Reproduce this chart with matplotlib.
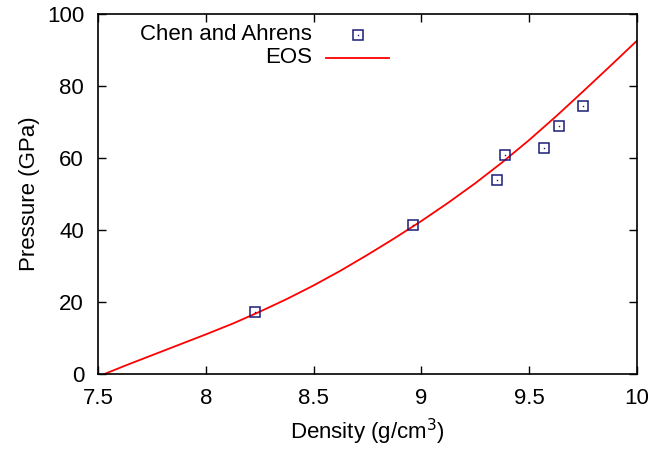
import matplotlib
matplotlib.use('Agg')
import matplotlib.pyplot as plt

plt.rcParams['font.family'] = ['Liberation Sans', 'DejaVu Sans']

# Chen and Ahrens data points
chen_rho = [8.23, 8.96, 9.35, 9.39, 9.57, 9.64, 9.75]
chen_p = [17.2, 41.5, 54.0, 60.8, 62.9, 68.9, 74.4]

# EOS curve
eos_rho = [7.53, 7.625, 7.75, 7.875, 8.0, 8.125, 8.25, 8.375, 8.5, 8.625, 8.75,
           8.875, 9.0, 9.125, 9.25, 9.375, 9.5, 9.625, 9.75, 9.875, 10.0]
eos_p = [0.0, 2.3, 5.2, 8.1, 11.0, 14.0, 17.3, 20.8, 24.6, 28.7, 33.1,
         37.7, 42.5, 47.6, 53.0, 58.8, 65.0, 71.6, 78.5, 85.5, 92.6]

xticks = [7.5, 8, 8.5, 9, 9.5, 10]
xticklabels = ['7.5', '8', '8.5', '9', '9.5', '10']
yticks = [0, 20, 40, 60, 80, 100]

sq_color = '#1c1c78'
fs = 16

fig = plt.figure(figsize=(6.7, 4.49), dpi=100)
ax = fig.add_axes([98/670, 75/449, 539/670, 360/449])

ax.plot(eos_rho, eos_p, color='red', lw=1.3, zorder=2)
ax.plot(chen_rho, chen_p, ls='none', marker='s', ms=7, mfc='none', mec=sq_color, mew=1.1, zorder=3)
ax.plot(chen_rho, chen_p, ls='none', marker='s', ms=1, mfc=sq_color, mec=sq_color, mew=0, zorder=3)

ax.set_xlim(7.5, 10)
ax.set_ylim(0, 100)
ax.set_xticks(xticks)
ax.set_xticklabels(xticklabels)
ax.set_yticks(yticks)
ax.tick_params(direction='in', length=6, width=1, top=True, right=True, labelsize=fs)
ax.tick_params(axis='x', pad=10)
ax.tick_params(axis='y', pad=10)
for s in ax.spines.values():
    s.set_linewidth(1.2)

ax.set_xlabel('Density (g/cm$^3$)', fontsize=fs, labelpad=6)
ax.set_ylabel('Pressure (GPa)', fontsize=fs, labelpad=5)

# legend, gnuplot style (text right aligned, sample on the right)
ax.text(0.397, 0.942, 'Chen and Ahrens', transform=ax.transAxes, ha='right', va='center', fontsize=fs)
ax.text(0.397, 0.878, 'EOS', transform=ax.transAxes, ha='right', va='center', fontsize=fs)
ax.plot([0.482], [0.942], transform=ax.transAxes, ls='none', marker='s', ms=7, mfc='none', mec=sq_color, mew=1.1, clip_on=False)
ax.plot([0.482], [0.942], transform=ax.transAxes, ls='none', marker='s', ms=1, mfc=sq_color, mew=0, clip_on=False)
ax.plot([0.423, 0.540], [0.878, 0.878], transform=ax.transAxes, color='red', lw=1.3, clip_on=False)

fig.savefig('out.png', dpi=100)
